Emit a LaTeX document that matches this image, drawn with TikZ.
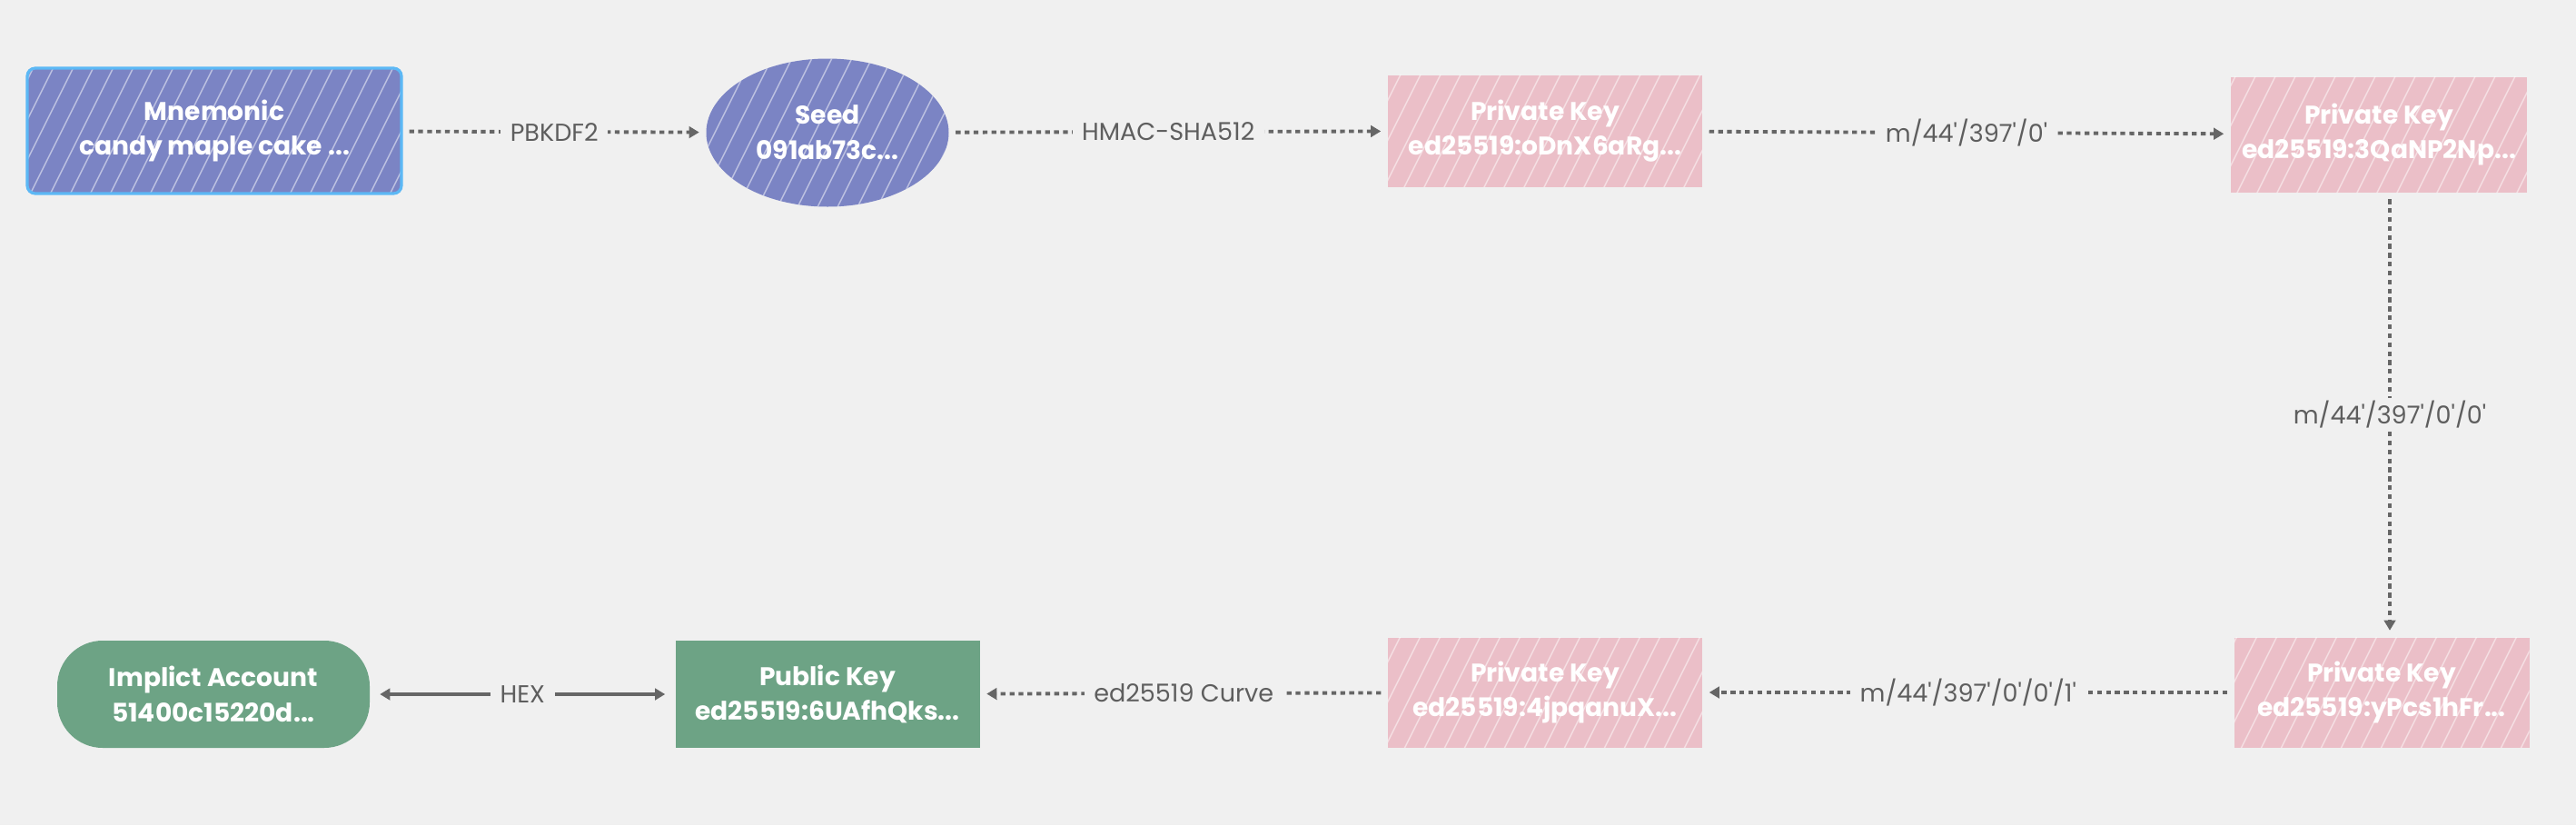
\documentclass[tikz,border=0pt]{standalone}
\usepackage{fontspec}
\setmainfont{Poppins}
\usetikzlibrary{calc, arrows.meta, shapes.geometric}

\definecolor{bgcol}{HTML}{F0F0F0}
\definecolor{seedcol}{HTML}{7B84C4}
\definecolor{keycol}{HTML}{EBBFC8}
\definecolor{pubcol}{HTML}{6DA385}
\definecolor{linkcol}{HTML}{666666}
\definecolor{textcol}{HTML}{5E5E5E}
\definecolor{framecol}{HTML}{5CB8F5}
\newcommand{\q}{\textquotesingle}

\begin{document}
\begin{tikzpicture}[
    hatch/.style={path picture={
        \foreach \s in {-3,-2.78,...,3}{
            \draw[white, line width=0.4pt, opacity=0.5]
                ($(path picture bounding box.center)+(\s,0)+(-0.55,-1.1)$) -- ++(1.1,2.2);
        }}},
    box/.style={inner sep=0pt, align=center, text=white, font=\bfseries\fontsize{8}{11}\selectfont},
    mnembox/.style={box, hatch, fill=seedcol, draw=framecol, line width=0.9pt, rounded corners=2.5pt,
        minimum width=4.12cm, minimum height=1.38cm},
    seedbox/.style={box, hatch, ellipse, fill=seedcol, minimum width=2.67cm, minimum height=1.63cm},
    keybox/.style={box, hatch, fill=keycol, minimum width=3.3cm, minimum height=1.23cm},
    pubbox/.style={box, fill=pubcol, minimum width=3.35cm, minimum height=1.18cm},
    accbox/.style={box, fill=pubcol, rounded corners=0.5cm, minimum width=3.44cm, minimum height=1.18cm},
    link/.style={draw=linkcol, line width=1.1pt, dash pattern=on 1.5pt off 1.3pt,
        -{Triangle[length=3.2pt,width=3.6pt]}, shorten <=2pt, shorten >=2pt},
    tag/.style={fill=bgcol, text=textcol, inner xsep=3pt, inner ysep=1pt, font=\fontsize{7.7}{9}\selectfont}
]
\fill[bgcol] (0,0) rectangle (28.36,9.08);
\useasboundingbox (0,0) rectangle (28.36,9.08);

% top row
\node[mnembox] (mnem) at (2.36,7.64) {Mnemonic\\candy maple cake ...};
\node[seedbox] (seed) at (9.11,7.62) {Seed\\091ab73c...};
\node[keybox, minimum width=3.46cm] (pk1) at (17.01,7.64) {Private Key\\ed25519:oDnX6aRg...};
\node[keybox, minimum width=3.26cm, minimum height=1.27cm] (pk2) at (26.19,7.60) {Private Key\\ed25519:3QaNP2Np...};

% bottom row
\node[keybox, minimum width=3.25cm, minimum height=1.21cm] (pk3) at (26.22,1.46) {Private Key\\ed25519:yPcs1hFr...};
\node[keybox, minimum width=3.46cm, minimum height=1.21cm] (pk4) at (17.01,1.46) {Private Key\\ed25519:4jpqanuX...};
\node[pubbox] (pub) at (9.11,1.44) {Public Key\\ed25519:6UAfhQks...};
\node[accbox] (acc) at (2.35,1.44) {Implict Account\\51400c15220d...};

% derivation
\draw[link] (mnem) -- node[tag] {PBKDF2} (seed);
\draw[link] (seed) -- node[tag] {HMAC-SHA512} (pk1);
\draw[link] (pk1) -- node[tag] {m/44\q/397\q/0\q} (pk2);
\draw[link] ([xshift=0.12cm]pk2.south) -- node[tag] {m/44\q/397\q/0\q/0\q} ([xshift=0.09cm]pk3.north);
\draw[link] (pk3) -- node[tag] {m/44\q/397\q/0\q/0\q/1\q} (pk4);
\draw[link] (pk4) -- node[tag] {ed25519 Curve} (pub);
\draw[draw=linkcol, line width=1.1pt, {Triangle[length=3.2pt,width=3.6pt]}-{Triangle[length=3.2pt,width=3.6pt]},
    shorten <=3pt, shorten >=3pt] (acc) -- node[tag] {HEX} (pub);
\end{tikzpicture}
\end{document}
